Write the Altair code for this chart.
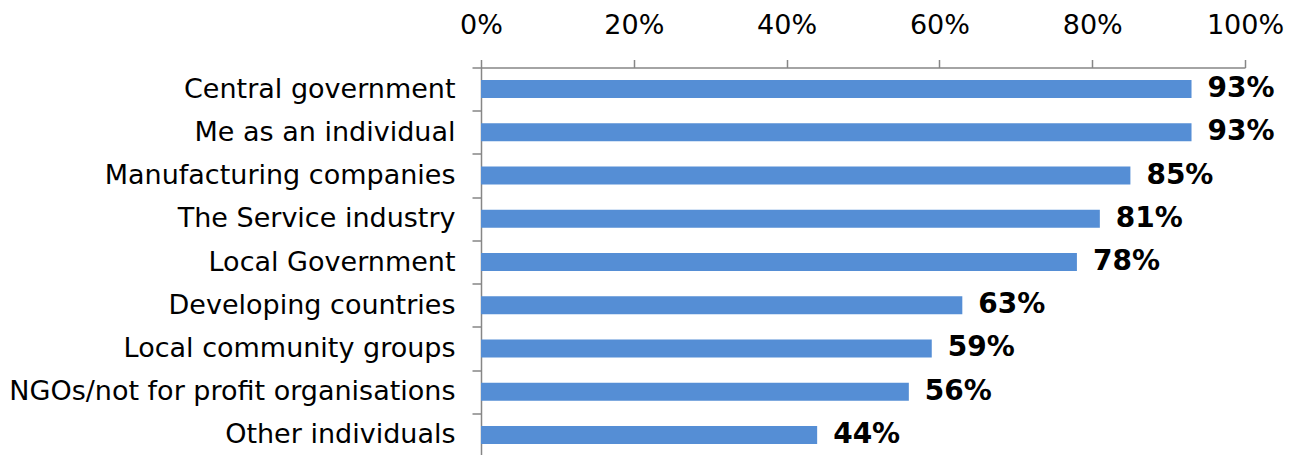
import altair as alt
import pandas as pd

categories = [
    "Central government",
    "Me as an individual",
    "Manufacturing companies",
    "The Service industry",
    "Local Government",
    "Developing countries",
    "Local community groups",
    "NGOs/not for profit organisations",
    "Other individuals",
]
values = [0.93, 0.93, 0.85, 0.81, 0.78, 0.63, 0.59, 0.56, 0.44]
labels = ["93%", "93%", "85%", "81%", "78%", "63%", "59%", "56%", "44%"]
x_ticks = [0, 0.2, 0.4, 0.6, 0.8, 1.0]

df = pd.DataFrame({"category": categories, "value": values, "label": labels})

FONT = "DejaVu Sans"

y_enc = alt.Y(
    "category:N",
    sort=categories,
    title=None,
    scale=alt.Scale(paddingInner=0, paddingOuter=0),
    axis=alt.Axis(
        tickBand="extent",
        labelFont=FONT,
        labelFontSize=27,
        labelColor="#000000",
        labelPadding=17,
        tickSize=9,
        tickColor="#868686",
        domainColor="#868686",
        tickWidth=1.5,
        domainWidth=1.5,
        labelLimit=600,
    ),
)

x_enc = alt.X(
    "value:Q",
    title=None,
    scale=alt.Scale(domain=[0, 1], nice=False),
    axis=alt.Axis(
        orient="top",
        values=x_ticks,
        format=".0%",
        grid=False,
        labelFont=FONT,
        labelFontSize=27,
        labelColor="#000000",
        labelPadding=20,
        tickSize=8,
        tickColor="#868686",
        domainColor="#868686",
        tickWidth=1.5,
        domainWidth=1.5,
        labelFlush=False,
    ),
)

bars = alt.Chart(df).mark_bar(color="#558ED5", size=18).encode(x=x_enc, y=y_enc)

text = alt.Chart(df).mark_text(
    align="left",
    baseline="middle",
    dx=16,
    font=FONT,
    fontSize=28,
    fontWeight="bold",
    color="#000000",
).encode(x="value:Q", y=alt.Y("category:N", sort=categories), text="label:N")

chart = (
    alt.layer(bars, text)
    .properties(
        width=764,
        height=389,
        autosize=alt.AutoSizeParams(type="none"),
        padding={"left": 473, "top": 59.5, "right": 40, "bottom": 0},
        background="#ffffff",
    )
    .configure_view(strokeWidth=0, stroke="transparent")
)

chart.save("out.html", embed_options={"renderer": "svg", "actions": False})
